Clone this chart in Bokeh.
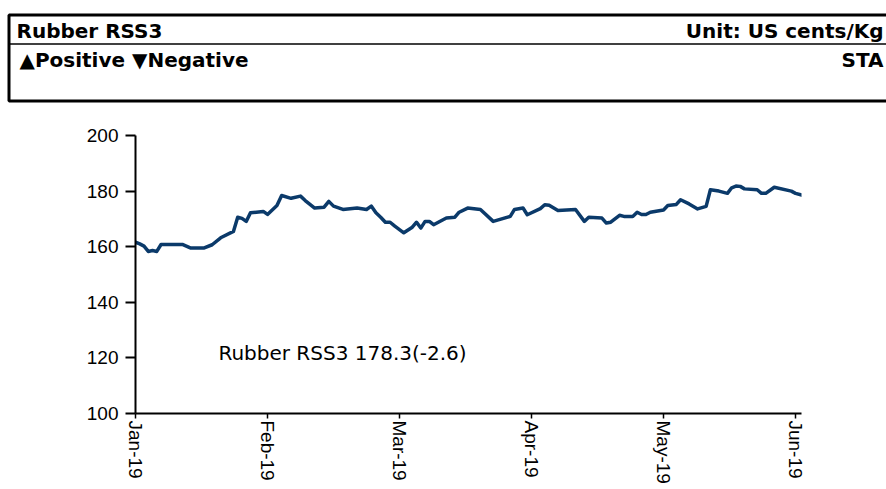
import math
import calendar
from bokeh.plotting import figure
from bokeh.models import Range1d, FixedTicker, Label
from bokeh.core.properties import value
from bokeh.embed import file_html
from bokeh.resources import INLINE

# ---------------- data ----------------
title_left = "Rubber RSS3"
title_right = "Unit: US cents/Kg"
legend_text = "\u25b2Positive \u25bcNegative"
source_text = "STA"
series_label = "Rubber RSS3 178.3(-2.6)"

month_labels = ["Jan-19", "Feb-19", "Mar-19", "Apr-19", "May-19", "Jun-19"]
y_ticks = [100, 120, 140, 160, 180, 200]

dates = [
    "2019-01-01", "2019-01-02", "2019-01-03", "2019-01-04", "2019-01-05", "2019-01-06",
    "2019-01-07", "2019-01-12", "2019-01-14", "2019-01-17", "2019-01-19", "2019-01-21",
    "2019-01-24", "2019-01-25", "2019-01-26", "2019-01-27", "2019-01-28", "2019-01-31",
    "2019-02-01", "2019-02-03", "2019-02-04", "2019-02-06", "2019-02-08", "2019-02-09",
    "2019-02-11", "2019-02-13", "2019-02-14", "2019-02-15", "2019-02-17", "2019-02-20",
    "2019-02-22", "2019-02-23", "2019-02-24", "2019-02-25", "2019-02-26", "2019-02-27",
    "2019-02-28", "2019-03-02", "2019-03-04", "2019-03-05", "2019-03-06", "2019-03-07",
    "2019-03-08", "2019-03-09", "2019-03-12", "2019-03-14", "2019-03-15", "2019-03-17",
    "2019-03-20", "2019-03-23", "2019-03-27", "2019-03-28", "2019-03-30", "2019-03-31",
    "2019-04-03", "2019-04-04", "2019-04-05", "2019-04-07", "2019-04-11", "2019-04-13",
    "2019-04-14", "2019-04-17", "2019-04-18", "2019-04-19", "2019-04-21", "2019-04-22",
    "2019-04-24", "2019-04-25", "2019-04-26", "2019-04-27", "2019-04-28", "2019-05-01",
    "2019-05-02", "2019-05-04", "2019-05-05", "2019-05-07", "2019-05-09", "2019-05-11",
    "2019-05-12", "2019-05-14", "2019-05-16", "2019-05-17", "2019-05-18", "2019-05-19",
    "2019-05-20", "2019-05-23", "2019-05-24", "2019-05-25", "2019-05-27", "2019-05-31",
    "2019-06-01", "2019-06-03",
]
prices = [
    161.6, 161.0, 160.2, 158.3, 158.6, 158.3,
    160.8, 160.8, 159.5, 159.5, 160.7, 163.2,
    165.5, 170.6, 170.2, 169.1, 172.2, 172.7,
    171.6, 174.8, 178.4, 177.4, 178.2, 176.6,
    173.9, 174.2, 176.3, 174.6, 173.4, 173.9,
    173.4, 174.6, 172.2, 170.6, 168.8, 168.8,
    167.4, 165.0, 167.0, 168.8, 166.7, 169.1,
    169.1, 167.9, 170.3, 170.6, 172.4, 173.9,
    173.4, 169.1, 170.9, 173.4, 173.9, 171.5,
    173.7, 175.1, 174.9, 173.0, 173.4, 169.1,
    170.6, 170.3, 168.5, 168.8, 171.3, 170.9,
    170.9, 172.4, 171.6, 171.6, 172.4, 173.2,
    174.8, 175.2, 176.9, 175.4, 173.6, 174.5,
    180.5, 180.0, 179.2, 181.2, 181.8, 181.7,
    180.8, 180.5, 179.2, 179.2, 181.4, 180.0,
    179.2, 178.3,
]


def month_pos(d):
    y, m, day = (int(t) for t in d.split("-"))
    ndays = calendar.monthrange(y, m)[1]
    return (m - 1) + (day - 1) / ndays


xs = [month_pos(d) for d in dates]

# ---------------- header ----------------
W = 886
H_HEAD = 112
H_CHART = 375

head = figure(width=W, height=H_HEAD, output_backend="svg", toolbar_location=None,
              x_range=Range1d(0, W), y_range=Range1d(H_HEAD, 0),
              x_axis_type=None, y_axis_type=None, min_border=0)
head.outline_line_color = None
head.background_fill_color = "white"
head.border_fill_color = "white"

head.quad(left=8.5, right=920, top=14.5, bottom=100.5, fill_color=None,
          line_color="black", line_width=3)
head.segment(x0=8.5, x1=920, y0=43.5, y1=43.5, line_color="black", line_width=1.5)

hfont = dict(text_font=value("DejaVu Sans"), text_font_style="bold",
             text_font_size="20px", text_color="black", text_baseline="alphabetic")
head.text(x=[16], y=[30], text=[title_left], text_align="left", **hfont)
head.text(x=[883], y=[30], text=[title_right], text_align="right", **hfont)
head.text(x=[19], y=[59], text=[legend_text], text_align="left", **hfont)
head.text(x=[883], y=[59], text=[source_text], text_align="right", **hfont)

# ---------------- chart ----------------
p = figure(width=W, height=H_CHART, output_backend="svg", toolbar_location=None,
           x_range=Range1d(0, 5.045), y_range=Range1d(100, 200),
           min_border_left=135, min_border_right=85, min_border_top=23,
           min_border_bottom=74)
p.outline_line_color = None
p.xgrid.visible = False
p.ygrid.visible = False
p.background_fill_color = "white"
p.border_fill_color = "white"

p.line(xs, prices, line_color="#0B3A6A", line_width=3.5, line_join="round")

p.yaxis.ticker = FixedTicker(ticks=y_ticks)
p.yaxis.axis_line_color = "black"
p.yaxis.axis_line_width = 2
p.yaxis.major_tick_out = 10
p.yaxis.major_tick_in = 0
p.yaxis.major_tick_line_width = 2
p.yaxis.minor_tick_line_color = None
p.yaxis.major_label_standoff = 7
p.yaxis.major_label_text_font = "Liberation Sans"
p.yaxis.major_label_text_font_size = "19px"
p.yaxis.major_label_text_color = "black"

p.xaxis.ticker = FixedTicker(ticks=list(range(len(month_labels))))
p.xaxis.major_label_overrides = {i: lab for i, lab in enumerate(month_labels)}
p.xaxis.axis_line_color = "black"
p.xaxis.axis_line_width = 2
p.xaxis.major_tick_out = 5
p.xaxis.major_tick_in = 0
p.xaxis.major_tick_line_width = 1.5
p.xaxis.minor_tick_line_color = None
p.xaxis.major_label_orientation = -math.pi / 2
p.xaxis.major_label_standoff = 2
p.xaxis.major_label_text_font = "Liberation Sans"
p.xaxis.major_label_text_font_size = "19px"
p.xaxis.major_label_text_color = "black"

p.add_layout(Label(x=1.568, y=121.6, text=series_label, text_align="center",
                   text_baseline="alphabetic", text_font="DejaVu Sans",
                   text_font_size="20px", text_color="black"))

open("out.html", "w").write(file_html([head, p], INLINE))
